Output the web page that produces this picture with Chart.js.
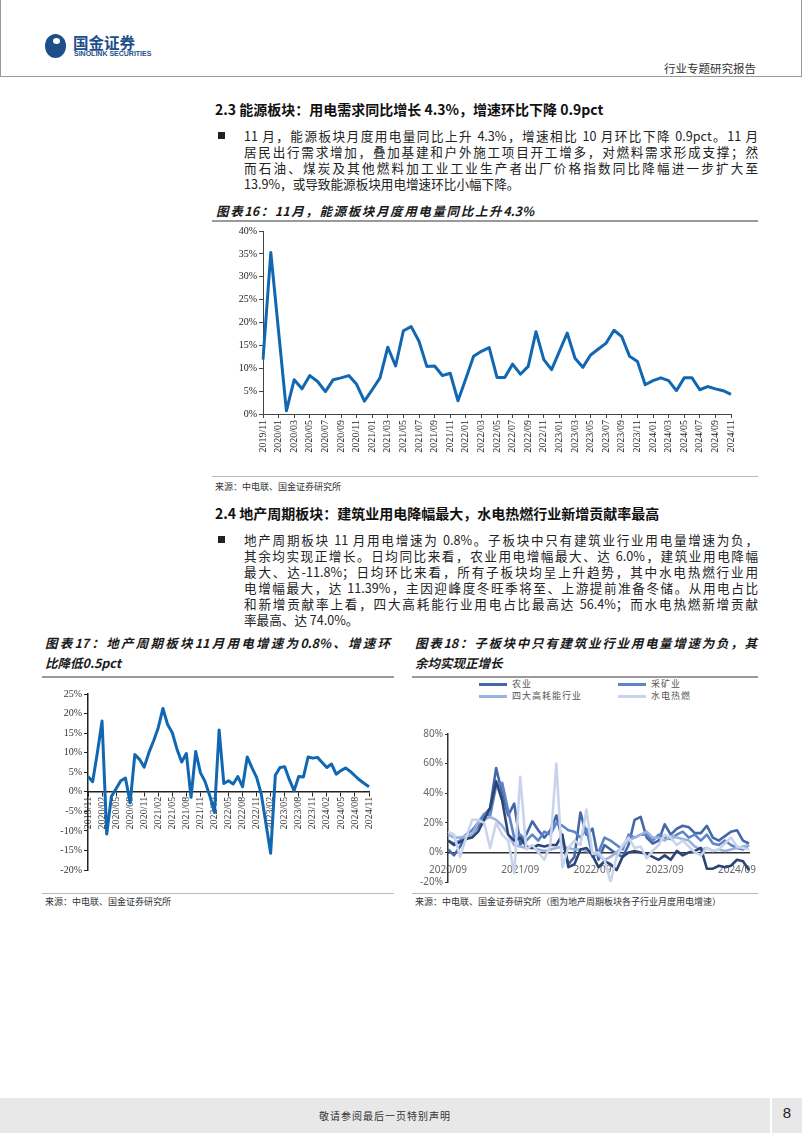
<!DOCTYPE html>
<html>
<head>
<meta charset="utf-8">
<script src="https://cdn.jsdelivr.net/npm/chart.js"></script>
<style>
  body { margin: 0; background: #fff; }
  #page { position: relative; width: 802px; height: 1133px; overflow: hidden; background: #fff;
    font-family: "Noto Sans CJK SC", sans-serif; color: #222; }
  .abs { position: absolute; }
  .h2 { font-size: 14px; font-weight: bold; color: #111; white-space: nowrap; }
  .para div { width: 514px; height: 16px; line-height: 16px; font-size: 12.6px; text-align: justify; text-align-last: justify; white-space: nowrap; }
  .para div.last { text-align-last: left; }
  .cap { font-size: 12.5px; font-weight: bold; font-style: italic; color: #1a1a1a; white-space: nowrap; line-height: 20px; }
  .cap div { text-align: justify; text-align-last: justify; }
  .cap div.last { text-align-last: left; }
  .src { font-size: 9px; color: #333; white-space: nowrap; }
  .rule { height: 0; border-top: 2px solid #9a9a9a; }
  .thin { height: 0; border-top: 1px solid #b9b9b9; }
  .bullet { width: 7px; height: 7px; background: #222; }
  #legend18 { font-size: 9px; color: #555; letter-spacing: 1px; }
  #legend18 .item { position: absolute; height: 12px; line-height: 12px; white-space: nowrap; }
  #legend18 .sw { display: inline-block; width: 28px; height: 3px; vertical-align: middle; margin-right: 5px; }
</style>
</head>
<body>
<div id="page">
  <!-- header -->
  <div class="abs" style="left:45px;top:34px;width:21px;height:24px;border-radius:50%;background:#1d4f8b;"></div>
  <div class="abs" style="left:53px;top:38px;width:7px;height:6px;border-radius:50%;background:#fff;"></div>
  <div class="abs" style="left:73px;top:31px;font-size:15.5px;font-weight:bold;color:#1d4f8b;">国金证券</div>
  <div class="abs" style="left:74px;top:50px;font-size:7px;font-weight:bold;color:#1d4f8b;font-family:'Liberation Sans',sans-serif;">SINOLINK SECURITIES</div>
  <div class="abs" style="left:664px;top:60px;font-size:11.5px;color:#333;">行业专题研究报告</div>
  <div class="abs" style="left:0;top:76px;width:802px;height:1px;background:#999;"></div>
  <div class="abs" style="left:0;top:0;width:1px;height:76px;background:#999;"></div>
  <div class="abs" style="left:801px;top:0;width:1px;height:76px;background:#999;"></div>

  <!-- 2.3 -->
  <div class="abs h2" style="left:215px;top:99px;">2.3 能源板块：用电需求同比增长 4.3%，增速环比下降 0.9pct</div>
  <div class="abs bullet" style="left:218px;top:132px;"></div>
  <div class="abs para" style="left:244px;top:128px;">
    <div>11 月，能源板块月度用电量同比上升 4.3%，增速相比 10 月环比下降 0.9pct。11 月</div>
    <div>居民出行需求增加，叠加基建和户外施工项目开工增多，对燃料需求形成支撑；然</div>
    <div>而石油、煤炭及其他燃料加工业工业生产者出厂价格指数同比降幅进一步扩大至</div>
    <div class="last">13.9%，或导致能源板块用电增速环比小幅下降。</div>
  </div>
  <div class="abs cap" style="left:216px;top:201px;"><div style="width:318px;">图表16：11月，能源板块月度用电量同比上升4.3%</div></div>
  <div class="abs rule" style="left:212px;top:220px;width:546px;"></div>
  <canvas id="c16" class="abs" width="540" height="245" style="left:212px;top:222px;"></canvas>
  <div class="abs thin" style="left:212px;top:476px;width:546px;"></div>
  <div class="abs src" style="left:215px;top:480px;">来源：中电联、国金证券研究所</div>

  <!-- 2.4 -->
  <div class="abs h2" style="left:215px;top:503px;">2.4 地产周期板块：建筑业用电降幅最大，水电热燃行业新增贡献率最高</div>
  <div class="abs bullet" style="left:218px;top:536px;"></div>
  <div class="abs para" style="left:244px;top:532px;">
    <div>地产周期板块 11 月用电增速为 0.8%。子板块中只有建筑业行业用电量增速为负，</div>
    <div>其余均实现正增长。日均同比来看，农业用电增幅最大、达 6.0%，建筑业用电降幅</div>
    <div>最大、达-11.8%；日均环比来看，所有子板块均呈上升趋势，其中水电热燃行业用</div>
    <div>电增幅最大，达 11.39%，主因迎峰度冬旺季将至、上游提前准备冬储。从用电占比</div>
    <div>和新增贡献率上看，四大高耗能行业用电占比最高达 56.4%；而水电热燃新增贡献</div>
    <div class="last">率最高、达 74.0%。</div>
  </div>

  <div class="abs cap" style="left:45px;top:633px;">
    <div style="width:345px;">图表17：地产周期板块11月用电增速为0.8%、增速环</div>
    <div class="last">比降低0.5pct</div>
  </div>
  <div class="abs cap" style="left:415px;top:633px;">
    <div style="width:342px;">图表18：子板块中只有建筑业行业用电量增速为负，其</div>
    <div class="last">余均实现正增长</div>
  </div>
  <div class="abs rule" style="left:42px;top:676px;width:352px;"></div>
  <div class="abs rule" style="left:412px;top:676px;width:346px;"></div>
  <canvas id="c17" class="abs" width="360" height="205" style="left:40px;top:680px;"></canvas>
  <div id="legend18" class="abs" style="left:415px;top:678px;width:350px;height:30px;"></div>
  <canvas id="c18" class="abs" width="355" height="170" style="left:415px;top:720px;"></canvas>
  <div class="abs thin" style="left:42px;top:893px;width:352px;"></div>
  <div class="abs thin" style="left:412px;top:893px;width:346px;"></div>
  <div class="abs src" style="left:45px;top:895px;">来源：中电联、国金证券研究所</div>
  <div class="abs src" style="left:415px;top:895px;">来源：中电联、国金证券研究所（图为地产周期板块各子行业月度用电增速）</div>

  <!-- footer -->
  <div class="abs" style="left:0;top:1098px;width:770px;height:35px;background:#e8e8e8;"></div>
  <div class="abs" style="left:772px;top:1098px;width:30px;height:35px;background:#e8e8e8;"></div>
  <div class="abs" style="left:0;top:1108px;width:770px;text-align:center;font-size:10px;color:#333;letter-spacing:1px;">敬请参阅最后一页特别声明</div>
  <div class="abs" style="left:772px;top:1104px;width:30px;text-align:center;font-size:15px;color:#222;font-family:'Liberation Sans',sans-serif;">8</div>
</div>

<script>
// month labels helper
function monthRange(y, m, count) {
  const out = [];
  for (let k = 0; k < count; k++) {
    out.push(y + '/' + String(m).padStart(2, '0'));
    m++;
    if (m > 12) { m = 1; y++; }
  }
  return out;
}

// 图表16：能源板块月度用电量同比（%），2019/11 - 2024/11
const months16 = monthRange(2019, 11, 61);
const energy16 = [
  11.9, 35.3, 18.0, 0.7, 7.5, 5.5, 8.4, 7.1, 4.9, 7.5, 7.9, 8.4, 6.5, 2.8,
  5.3, 7.9, 14.6, 10.5, 18.2, 19.1, 15.9, 10.4, 10.5, 8.4, 8.9, 2.9,
  7.7, 12.6, 13.7, 14.5, 8.0, 8.0, 10.9, 8.7, 10.4, 18.0, 11.9, 9.7,
  13.7, 17.7, 12.2, 10.2, 12.9, 14.2, 15.5, 18.3, 16.9, 12.6, 11.5, 6.4,
  7.3, 7.9, 7.3, 5.1, 7.9, 7.9, 5.3, 6.0, 5.5, 5.1, 4.3
];

// 图表17：地产周期板块月度用电增速（%），2019/11 - 2024/11
const months17 = monthRange(2019, 11, 61);
const property17 = [
  3.9, 2.6, 10.0, 18.1, -10.8, -1.2, 0.8, 2.8, 3.5, -2.8, 9.5, 8.3, 6.3, 10.0,
  13.0, 16.4, 21.3, 17.2, 15.1, 10.9, 7.6, 9.8, -1.4, 10.3, 4.9, 2.6,
  -1.0, -5.3, 15.8, 2.1, 2.8, 2.0, 3.9, 1.3, 8.9, 6.2, 3.7, -0.6,
  -8.2, -15.7, 4.2, 6.2, 6.4, 3.1, 0.3, 3.9, 3.8, 8.9, 8.6, 8.8,
  7.5, 6.2, 7.1, 4.5, 5.4, 6.1, 5.2, 4.1, 3.0, 2.1, 1.3
];

// 图表18：各子行业月度用电增速（%），2020/09 - 2024/11
const months18 = monthRange(2020, 9, 51);
const names18 = ['农业', '采矿业', '四大高耗能行业', '水电热燃', '建筑业'];
const agri = [
  2, -2, 4, 10, 12, 18, 25, 30, 57, 40, 25, 33, 5, 12, 21, 15, 10, 15, 25, 8,
  -8, -3, 27, 12, 16, -5, 5, 2, -1, -3, 5, 22, 24, 10, 6, 8, 19, 12, 16, 18,
  17, 13, 13, 18, 10, 8, 11, 14, 15, 8, 6
];
const mining = [
  8, 6, 8, 12, 15, 20, 26, 25, 45, 47, 28, 10, 12, 8, 12, 8, 14, 12, 20, 18,
  15, 14, 10, 16, -3, 0, 10, 8, 5, 2, 12, 10, 12, 12, 8, 12, 10, 9, 12, 14,
  10, 12, 8, 12, 6, 5, 8, 5, 3, 2, 5
];
const fourHigh = [
  12, 10, 10, 11, 12, 20, 22, 24, 22, 18, 12, 5, 4, 3, 3, 2, 1, 2, 3, 4,
  3, 2, 2, 1, 0, -2, -5, -3, 0, 4, 8, 10, 12, 14, 10, 10, 8, 11, 10, 9,
  8, 4, 2, 3, 1, 2, 1, 2, 3, 4, 5
];
const utilities = [
  14, 12, -3, 10, 22, 22, 20, 3, 20, 12, 8, -14, 51, 2, 5, 0, -5, 5, 60, -10,
  3, 8, 5, 29, -1, 0, -5, -20, -3, 5, 10, 3, 4, -4, 1, 5, 12, 10, 5, 8,
  4, 0, -2, 3, 1, 2, 6, 10, 4, 3, 2
];
const construction = [
  8, 5, 7, 9, 10, 14, 22, 30, 48, 35, 12, 8, 10, 4, 3, 5, 4, 5, 5, 12,
  -10, -8, 2, 3, -2, -10, -6, -8, -12, -3, 0, 1, 0, -1, -3, -5, -2, -5, 1, -2,
  0, 1, 3, -11, -11, -9, -10, -9, -5, -6, -12
];
const colors18 = ['#4467a8', '#5e84c8', '#9bb2df', '#c9d4ec', '#2b4577'];

const serif = "'Liberation Serif', 'Times New Roman', serif";

function pct(v) { return v + '%'; }

// chart 16
new Chart(document.getElementById('c16'), {
  type: 'line',
  data: {
    labels: months16,
    datasets: [{
      data: energy16,
      borderColor: '#1167b1',
      borderWidth: 3,
      borderJoinStyle: 'round',
      pointRadius: 0,
      tension: 0
    }]
  },
  options: {
    responsive: false,
    animation: false,
    devicePixelRatio: 1,
    layout: { padding: { left: 0, right: 21, top: 9, bottom: 3 } },
    plugins: { legend: { display: false }, tooltip: { enabled: false } },
    scales: {
      x: {
        afterFit: s => { s.height = 50; },
        grid: {
          drawOnChartArea: false, tickLength: 4,
          color: c => (c.index % 2 === 0 ? '#444' : 'rgba(0,0,0,0)')
        },
        border: { color: '#444', width: 1 },
        ticks: {
          autoSkip: false, maxRotation: 90, minRotation: 90, padding: 2,
          color: '#222', font: { family: serif, size: 10 },
          callback: (v, i) => (i % 2 === 0 ? months16[i] : '')
        }
      },
      y: {
        min: 0, max: 40,
        afterFit: s => { s.width = 51; },
        grid: { drawOnChartArea: false, tickLength: 4, color: '#444' },
        border: { color: '#444', width: 1 },
        ticks: { stepSize: 5, color: '#222', font: { family: serif, size: 10 }, callback: pct, padding: 2 }
      }
    }
  }
});

// chart 17
new Chart(document.getElementById('c17'), {
  type: 'line',
  data: {
    labels: months17,
    datasets: [{
      data: property17,
      borderColor: '#1167b1',
      borderWidth: 3,
      borderJoinStyle: 'round',
      pointRadius: 0,
      tension: 0
    }]
  },
  options: {
    responsive: false,
    animation: false,
    devicePixelRatio: 1,
    layout: { padding: { left: 0, right: 31, top: 14, bottom: 15 } },
    plugins: { legend: { display: false }, tooltip: { enabled: false } },
    scales: {
      x: {
        position: { y: 0 },
        grid: {
          drawOnChartArea: false, tickLength: 4,
          color: c => (c.index % 3 === 0 ? '#222' : 'rgba(0,0,0,0)')
        },
        border: { color: '#222', width: 1.5 },
        ticks: {
          autoSkip: false, maxRotation: 90, minRotation: 90, padding: 1,
          color: '#333', font: { family: serif, size: 10 },
          callback: (v, i) => (i % 3 === 0 ? months17[i] : '')
        }
      },
      y: {
        min: -20, max: 25,
        afterFit: s => { s.width = 48; },
        grid: { drawOnChartArea: false, tickLength: 4, color: '#222' },
        border: { color: '#222', width: 1.5 },
        ticks: { stepSize: 5, color: '#333', font: { family: serif, size: 10 }, callback: pct, padding: 2 }
      }
    }
  }
});

// chart 18
const series18 = [agri, mining, fourHigh, utilities, construction];
const draw18 = [3, 4, 2, 1, 0];
const chart18 = new Chart(document.getElementById('c18'), {
  type: 'line',
  data: {
    labels: months18,
    datasets: draw18.map(k => ({
      label: names18[k],
      data: series18[k],
      borderColor: colors18[k],
      borderWidth: 2.6,
      borderJoinStyle: 'round',
      pointRadius: 0,
      tension: 0
    }))
  },
  options: {
    responsive: false,
    animation: false,
    devicePixelRatio: 1,
    layout: { padding: { left: 0, right: 21, top: 14, bottom: 8 } },
    plugins: { legend: { display: false }, tooltip: { enabled: false } },
    scales: {
      x: {
        position: { y: 0 },
        grid: { display: false },
        border: { color: '#333', width: 1.5 },
        ticks: {
          autoSkip: false, maxRotation: 0, minRotation: 0, padding: 4,
          color: '#666', font: { family: "'Noto Sans', sans-serif", size: 10 },
          callback: (v, i) => (i % 12 === 0 ? months18[i] : '')
        }
      },
      y: {
        min: -20, max: 80,
        afterFit: s => { s.width = 33; },
        grid: { drawOnChartArea: false, tickLength: 3, color: '#333' },
        border: { color: '#333', width: 1.5 },
        ticks: { stepSize: 20, color: '#666', font: { family: "'Noto Sans', sans-serif", size: 10 }, callback: pct, padding: 2 }
      }
    }
  }
});

// legend for chart 18 (first four sub-sectors)
const legendPos = [[64, 0], [203, 0], [64, 12], [203, 12]];
const leg = document.getElementById('legend18');
for (let k = 0; k < 4; k++) {
  const ds = chart18.data.datasets.find(d => d.label === names18[k]);
  const item = document.createElement('div');
  item.className = 'item';
  item.style.left = legendPos[k][0] + 'px';
  item.style.top = legendPos[k][1] + 'px';
  item.innerHTML = '<span class="sw" style="background:' + ds.borderColor + '"></span>' + ds.label;
  leg.appendChild(item);
}
</script>
</body>
</html>
